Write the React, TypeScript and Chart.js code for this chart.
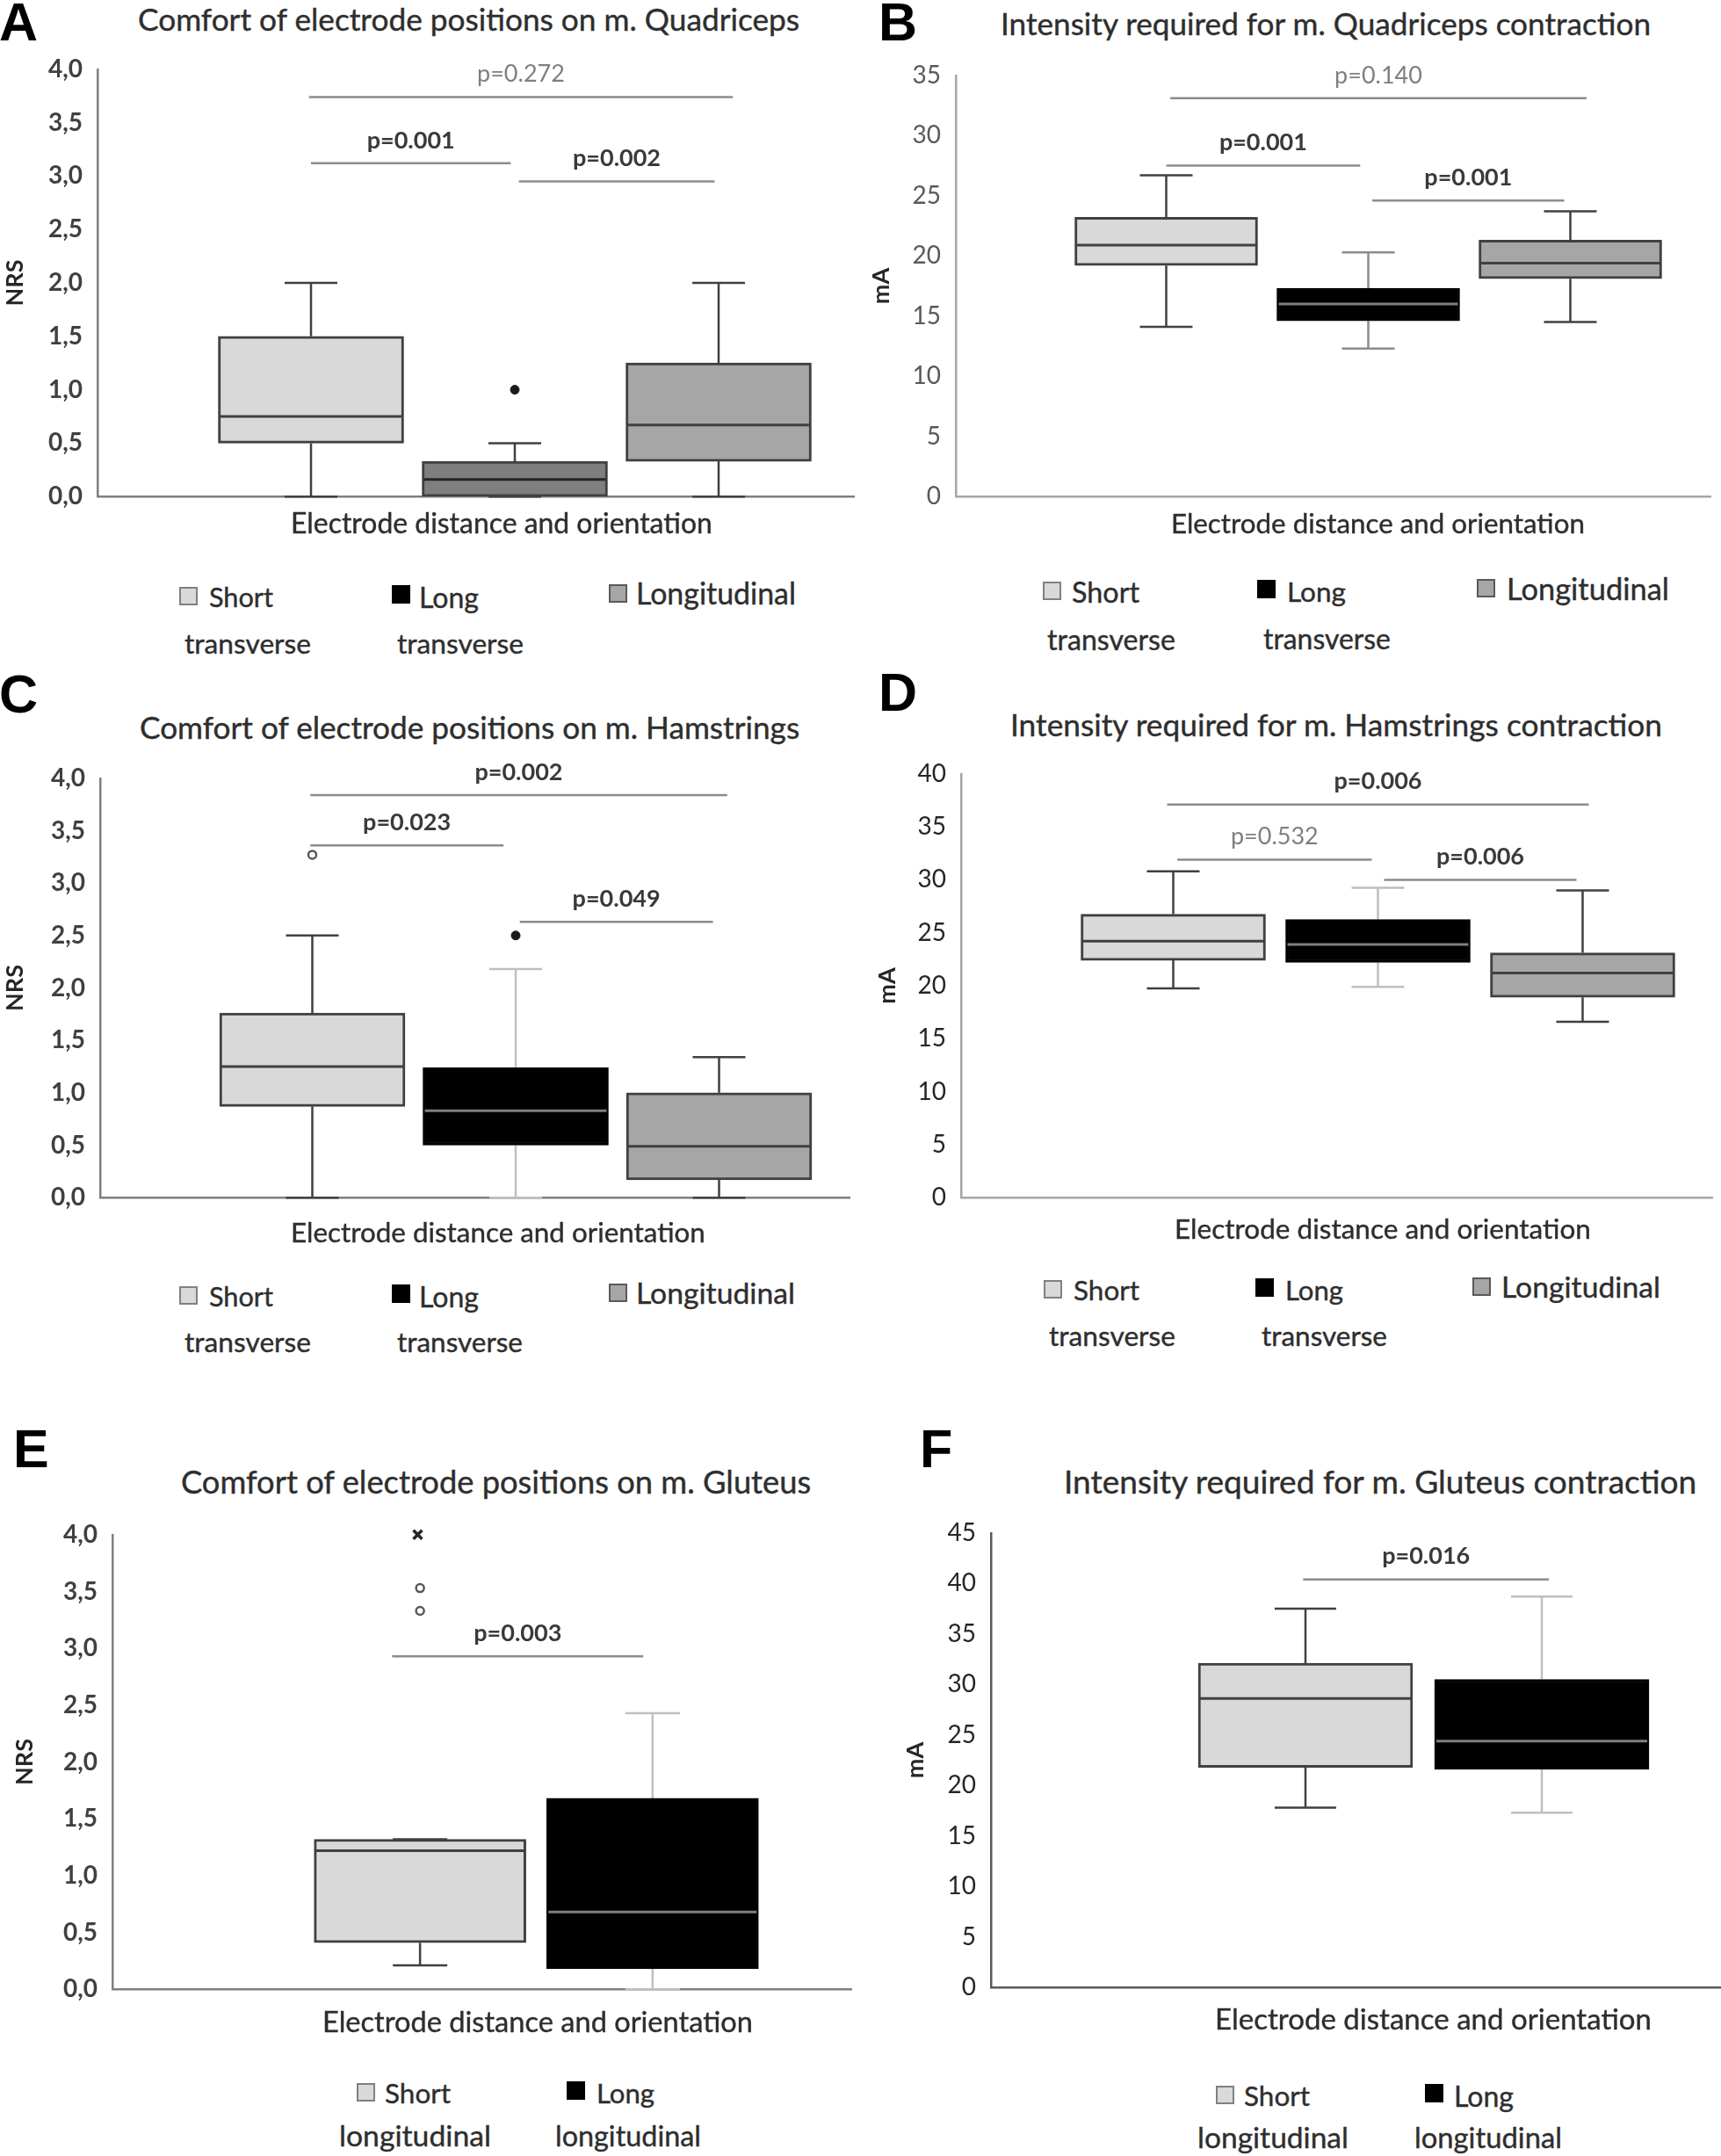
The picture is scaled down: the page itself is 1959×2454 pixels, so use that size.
import React, { useEffect, useRef } from 'react';
import { Chart, registerables } from 'chart.js';

Chart.register(...registerables);

// ---------------- DATA ----------------
const transverseCategories = ['Short transverse', 'Long transverse', 'Longitudinal'];
const longitudinalCategories = ['Short longitudinal', 'Long longitudinal'];

const nrsTickLabels = ['0,0', '0,5', '1,0', '1,5', '2,0', '2,5', '3,0', '3,5', '4,0'];

// A – Comfort, m. Quadriceps (NRS)
const quadComfortMin = [0, 0, 0];
const quadComfortQ1 = [0.5, 0, 0.33];
const quadComfortMedian = [0.75, 0.16, 0.67];
const quadComfortQ3 = [1.5, 0.33, 1.25];
const quadComfortMax = [2.0, 0.5, 2.0];
const quadComfortOutlierCat = [2];
const quadComfortOutlierVal = [1.0];
const quadComfortSigLabels = ['p=0.272', 'p=0.001', 'p=0.002'];
const quadComfortSigFrom = [0.99, 1.0, 2.02];
const quadComfortSigTo = [3.07, 1.98, 2.98];
const quadComfortSigLevel = [3.74, 3.12, 2.95];
const quadComfortSigBold = [false, true, true];

// B – Intensity, m. Quadriceps (mA)
const quadIntMin = [14.1, 12.3, 14.5];
const quadIntQ1 = [19.2, 14.6, 18.1];
const quadIntMedian = [20.9, 16.0, 19.4];
const quadIntQ3 = [23.2, 17.3, 21.3];
const quadIntMax = [26.7, 20.3, 23.7];
const quadIntSigLabels = ['p=0.140', 'p=0.001', 'p=0.001'];
const quadIntSigFrom = [1.02, 1.0, 2.02];
const quadIntSigTo = [3.08, 1.96, 2.97];
const quadIntSigLevel = [33.1, 27.5, 24.6];
const quadIntSigBold = [false, true, true];

// C – Comfort, m. Hamstrings (NRS)
const hamComfortMin = [0, 0, 0];
const hamComfortQ1 = [0.87, 0.5, 0.17];
const hamComfortMedian = [1.25, 0.83, 0.49];
const hamComfortQ3 = [1.76, 1.24, 1.0];
const hamComfortMax = [2.5, 2.18, 1.34];
const hamComfortOpenOutlierCat = [1];
const hamComfortOpenOutlierVal = [3.27];
const hamComfortOutlierCat = [2];
const hamComfortOutlierVal = [2.5];
const hamComfortSigLabels = ['p=0.002', 'p=0.023', 'p=0.049'];
const hamComfortSigFrom = [0.99, 0.99, 2.02];
const hamComfortSigTo = [3.04, 1.94, 2.97];
const hamComfortSigLevel = [3.84, 3.36, 2.63];
const hamComfortSigBold = [true, true, true];

// D – Intensity, m. Hamstrings (mA)
const hamIntMin = [19.75, 19.9, 16.6];
const hamIntQ1 = [22.4, 22.2, 18.9];
const hamIntMedian = [24.2, 23.9, 21.2];
const hamIntQ3 = [26.75, 26.25, 23.1];
const hamIntMax = [30.8, 29.25, 29.0];
const hamIntSigLabels = ['p=0.006', 'p=0.532', 'p=0.006'];
const hamIntSigFrom = [0.97, 1.02, 2.03];
const hamIntSigTo = [3.03, 1.97, 2.97];
const hamIntSigLevel = [37.1, 31.9, 30.0];
const hamIntSigBold = [true, false, true];

// E – Comfort, m. Gluteus (NRS)
const gluComfortMin = [0.21, 0];
const gluComfortQ1 = [0.41, 0.18];
const gluComfortMedian = [1.22, 0.68];
const gluComfortQ3 = [1.32, 1.68];
const gluComfortMax = [1.32, 2.43];
const gluComfortOpenOutlierCat = [1, 1];
const gluComfortOpenOutlierVal = [3.53, 3.33];
const gluComfortMeanCat = [0.99];
const gluComfortMeanVal = [4.0];
const gluComfortSigLabels = ['p=0.003'];
const gluComfortSigFrom = [0.88];
const gluComfortSigTo = [1.96];
const gluComfortSigLevel = [2.93];
const gluComfortSigBold = [true];

// F – Intensity, m. Gluteus (mA)
const gluIntMin = [17.8, 17.3];
const gluIntQ1 = [21.8, 21.6];
const gluIntMedian = [28.6, 24.4];
const gluIntQ3 = [32.1, 30.5];
const gluIntMax = [37.5, 38.7];
const gluIntSigLabels = ['p=0.016'];
const gluIntSigFrom = [0.99];
const gluIntSigTo = [2.03];
const gluIntSigLevel = [40.4];
const gluIntSigBold = [true];

// ---------------- STYLE / LAYOUT ----------------
const FONT = 'Lato';
const TEXT = '#2e2e2e';

const STYLE_3 = {
  fill: ['#d9d9d9', '#000000', '#a6a6a6'],
  border: ['#404040', '#000000', '#404040'],
  median: ['#404040', '#7f7f7f', '#404040'],
  whisker: ['#404040', '#bfbfbf', '#404040'],
};
const STYLE_2 = {
  fill: ['#d9d9d9', '#000000'],
  border: ['#404040', '#000000'],
  median: ['#404040', '#7f7f7f'],
  whisker: ['#404040', '#bfbfbf'],
};

const legendFill: any = {
  Short: { bg: '#d9d9d9', border: '2px solid #808080' },
  Long: { bg: '#000000', border: '2px solid #000000' },
  Longitudinal: { bg: '#a6a6a6', border: '2px solid #595959' },
};

const panels: any[] = [
  {
    key: 'A', letter: { left: -1, cy: 25 },
    categories: transverseCategories,
    min: quadComfortMin, q1: quadComfortQ1, median: quadComfortMedian, q3: quadComfortQ3, max: quadComfortMax,
    filled: { cat: quadComfortOutlierCat, val: quadComfortOutlierVal }, open: null, mean: null,
    sig: { labels: quadComfortSigLabels, from: quadComfortSigFrom, to: quadComfortSigTo, level: quadComfortSigLevel, bold: quadComfortSigBold },
    yMax: 4, step: 0.5, tickLabels: nrsTickLabels, yTitle: 'NRS',
    style: { ...STYLE_3, fill: ['#d9d9d9', '#7f7f7f', '#a6a6a6'], border: ['#404040', '#404040', '#404040'], median: ['#404040', '#262626', '#404040'], whisker: ['#404040', '#404040', '#404040'] },
    tick: { color: '#404040', weight: 'bold' }, axis: { color: '#7f7f7f', width: 2.5 },
    L: { panelLeft: 0, panelRight: 980, plotLeft: 111, plotRight: 972, plotTop: 75, plotBottom: 569, c1: 354, sp: 232, boxWidth: 211, cap: 60, yTitlePad: 1 },
    title: { text: 'Comfort of electrode positions on m. Quadriceps', left: 157, width: 754, cy: 22 },
    xTitle: { left: 331, width: 480, cy: 595 },
    legend: [
      { key: 'Short', mx: 204, my: 668, t1: ['Short', 238, 73, 680], t2: ['transverse', 210, 144, 733] },
      { key: 'Long', mx: 446, my: 666, t1: ['Long', 477, 68, 680], t2: ['transverse', 452, 144, 733] },
      { key: 'Longitudinal', mx: 693, my: 665, t1: ['Longitudinal', 724, 182, 676] },
    ],
  },
  {
    key: 'B', letter: { left: 1000, cy: 25 },
    categories: transverseCategories,
    min: quadIntMin, q1: quadIntQ1, median: quadIntMedian, q3: quadIntQ3, max: quadIntMax,
    filled: null, open: null, mean: null,
    sig: { labels: quadIntSigLabels, from: quadIntSigFrom, to: quadIntSigTo, level: quadIntSigLevel, bold: quadIntSigBold },
    yMax: 35, step: 5, tickLabels: null, yTitle: 'mA',
    style: { ...STYLE_3, whisker: ['#404040', '#8c8c8c', '#404040'] },
    tick: { color: '#595959', weight: 'normal' }, axis: { color: '#a6a6a6', width: 2.5 },
    L: { panelLeft: 980, panelRight: 1959, plotLeft: 1088, plotRight: 1947, plotTop: 82, plotBottom: 569, c1: 1327.5, sp: 230, boxWidth: 208, cap: 60, yTitlePad: 7 },
    title: { text: 'Intensity required for m. Quadriceps contraction', left: 1139, width: 742, cy: 27 },
    xTitle: { left: 1333, width: 471, cy: 596 },
    legend: [
      { key: 'Short', mx: 1187, my: 662, t1: ['Short', 1220, 77, 674], t2: ['transverse', 1192, 146, 728] },
      { key: 'Long', mx: 1431, my: 660, t1: ['Long', 1465, 67, 674], t2: ['transverse', 1438, 145, 728] },
      { key: 'Longitudinal', mx: 1681, my: 659, t1: ['Longitudinal', 1715, 185, 670] },
    ],
  },
  {
    key: 'C', letter: { left: -1, cy: 790 },
    categories: transverseCategories,
    min: hamComfortMin, q1: hamComfortQ1, median: hamComfortMedian, q3: hamComfortQ3, max: hamComfortMax,
    filled: { cat: hamComfortOutlierCat, val: hamComfortOutlierVal },
    open: { cat: hamComfortOpenOutlierCat, val: hamComfortOpenOutlierVal }, mean: null,
    sig: { labels: hamComfortSigLabels, from: hamComfortSigFrom, to: hamComfortSigTo, level: hamComfortSigLevel, bold: hamComfortSigBold },
    yMax: 4, step: 0.5, tickLabels: nrsTickLabels, yTitle: 'NRS',
    style: STYLE_3,
    tick: { color: '#404040', weight: 'bold' }, axis: { color: '#7f7f7f', width: 2.5 },
    L: { panelLeft: 0, panelRight: 980, plotLeft: 114, plotRight: 967, plotTop: 882, plotBottom: 1367, c1: 355.5, sp: 231.5, boxWidth: 211, cap: 60, yTitlePad: 1 },
    title: { text: 'Comfort of electrode positions on m. Hamstrings', left: 159, width: 752, cy: 828 },
    xTitle: { left: 331, width: 472, cy: 1403 },
    legend: [
      { key: 'Short', mx: 204, my: 1464, t1: ['Short', 238, 73, 1476], t2: ['transverse', 210, 144, 1528] },
      { key: 'Long', mx: 446, my: 1462, t1: ['Long', 477, 68, 1476], t2: ['transverse', 452, 143, 1528] },
      { key: 'Longitudinal', mx: 693, my: 1461, t1: ['Longitudinal', 724, 181, 1472] },
    ],
  },
  {
    key: 'D', letter: { left: 1000, cy: 788 },
    categories: transverseCategories,
    min: hamIntMin, q1: hamIntQ1, median: hamIntMedian, q3: hamIntQ3, max: hamIntMax,
    filled: null, open: null, mean: null,
    sig: { labels: hamIntSigLabels, from: hamIntSigFrom, to: hamIntSigTo, level: hamIntSigLevel, bold: hamIntSigBold },
    yMax: 40, step: 5, tickLabels: null, yTitle: 'mA',
    style: STYLE_3,
    tick: { color: '#262626', weight: 'normal' }, axis: { color: '#a6a6a6', width: 2.5 },
    L: { panelLeft: 980, panelRight: 1959, plotLeft: 1094, plotRight: 1949, plotTop: 877, plotBottom: 1367, c1: 1335.5, sp: 233, boxWidth: 210, cap: 60, yTitlePad: 14 },
    title: { text: 'Intensity required for m. Hamstrings contraction', left: 1150, width: 744, cy: 825 },
    xTitle: { left: 1337, width: 474, cy: 1399 },
    legend: [
      { key: 'Short', mx: 1188, my: 1457, t1: ['Short', 1222, 75, 1469], t2: ['transverse', 1194, 144, 1521] },
      { key: 'Long', mx: 1429, my: 1455, t1: ['Long', 1463, 66, 1469], t2: ['transverse', 1436, 143, 1521] },
      { key: 'Longitudinal', mx: 1676, my: 1454, t1: ['Longitudinal', 1709, 181, 1465] },
    ],
  },
  {
    key: 'E', letter: { left: 15, cy: 1649 },
    categories: longitudinalCategories,
    min: gluComfortMin, q1: gluComfortQ1, median: gluComfortMedian, q3: gluComfortQ3, max: gluComfortMax,
    filled: null,
    open: { cat: gluComfortOpenOutlierCat, val: gluComfortOpenOutlierVal },
    mean: { cat: gluComfortMeanCat, val: gluComfortMeanVal },
    sig: { labels: gluComfortSigLabels, from: gluComfortSigFrom, to: gluComfortSigTo, level: gluComfortSigLevel, bold: gluComfortSigBold },
    yMax: 4, step: 0.5, tickLabels: nrsTickLabels, yTitle: 'NRS',
    style: STYLE_2,
    tick: { color: '#404040', weight: 'bold' }, axis: { color: '#7f7f7f', width: 2.5 },
    L: { panelLeft: 0, panelRight: 980, plotLeft: 128, plotRight: 980, plotTop: 1743, plotBottom: 2268, c1: 482.5, sp: 268, boxWidth: 241, cap: 62, yTitlePad: 12 },
    title: { text: 'Comfort of electrode positions on m. Gluteus', left: 206, width: 718, cy: 1686 },
    xTitle: { left: 367, width: 490, cy: 2301 },
    legend: [
      { key: 'Short', mx: 406, my: 2371, t1: ['Short', 438, 75, 2383], t2: ['longitudinal', 386, 173, 2431] },
      { key: 'Long', mx: 645, my: 2369, t1: ['Long', 679, 66, 2383], t2: ['longitudinal', 632, 166, 2431] },
    ],
  },
  {
    key: 'F', letter: { left: 1047, cy: 1649 },
    categories: longitudinalCategories,
    min: gluIntMin, q1: gluIntQ1, median: gluIntMedian, q3: gluIntQ3, max: gluIntMax,
    filled: null, open: null, mean: null,
    sig: { labels: gluIntSigLabels, from: gluIntSigFrom, to: gluIntSigTo, level: gluIntSigLevel, bold: gluIntSigBold },
    yMax: 45, step: 5, tickLabels: null, yTitle: 'mA',
    style: STYLE_2,
    tick: { color: '#262626', weight: 'normal' }, axis: { color: '#595959', width: 2.5 },
    L: { panelLeft: 980, panelRight: 1959, plotLeft: 1128, plotRight: 1959, plotTop: 1741, plotBottom: 2266, c1: 1486, sp: 269, boxWidth: 244, cap: 70, yTitlePad: 46 },
    title: { text: 'Intensity required for m. Gluteus contraction', left: 1211, width: 722, cy: 1686 },
    xTitle: { left: 1383, width: 497, cy: 2298 },
    legend: [
      { key: 'Short', mx: 1384, my: 2374, t1: ['Short', 1416, 75, 2386], t2: ['longitudinal', 1363, 172, 2433] },
      { key: 'Long', mx: 1622, my: 2372, t1: ['Long', 1655, 68, 2386], t2: ['longitudinal', 1610, 168, 2433] },
    ],
  },
];

// ---------------- HELPERS ----------------
let measureCtx: any = null;
function fitSize(text: string, weight: string | number, family: string, width: number) {
  if (!measureCtx) measureCtx = document.createElement('canvas').getContext('2d');
  measureCtx.font = `${weight} 100px "${family}"`;
  const w = measureCtx.measureText(text).width || 1;
  return (100 * width) / w;
}

function Txt({ text, left, width, cy, weight = 400, color = TEXT, family = FONT }: any) {
  const size = fitSize(text, weight, family, width);
  return (
    <div
      style={{
        position: 'absolute', left, top: cy, transform: 'translateY(-50%)',
        fontFamily: `"${family}"`, fontWeight: weight, fontSize: size, lineHeight: 1,
        color, whiteSpace: 'nowrap', WebkitTextStroke: '0.4px ' + color,
      }}
    >
      {text}
    </div>
  );
}

function boxPlugin(p: any) {
  return {
    id: 'boxExtras' + p.key,
    beforeDatasetsDraw(chart: any) {
      const { ctx } = chart;
      const xs = chart.scales.x;
      const ys = chart.scales.y;
      ctx.save();
      ctx.lineWidth = 2.5;
      p.categories.forEach((_: string, i: number) => {
        const x = xs.getPixelForValue(i + 1);
        const half = p.L.cap / 2;
        const yMax = ys.getPixelForValue(p.max[i]);
        const yQ3 = ys.getPixelForValue(p.q3[i]);
        const yQ1 = ys.getPixelForValue(p.q1[i]);
        const yMin = ys.getPixelForValue(p.min[i]);
        ctx.strokeStyle = p.style.whisker[i];
        ctx.beginPath();
        ctx.moveTo(x, yQ3); ctx.lineTo(x, yMax);
        ctx.moveTo(x - half, yMax); ctx.lineTo(x + half, yMax);
        ctx.moveTo(x, yQ1); ctx.lineTo(x, yMin);
        ctx.moveTo(x - half, yMin); ctx.lineTo(x + half, yMin);
        ctx.stroke();
      });
      ctx.restore();
    },
    afterDatasetsDraw(chart: any) {
      const { ctx } = chart;
      const xs = chart.scales.x;
      const ys = chart.scales.y;
      const meta = chart.getDatasetMeta(0);
      ctx.save();
      meta.data.forEach((el: any, i: number) => {
        const { x, width } = el.getProps(['x', 'width'], true);
        const y = ys.getPixelForValue(p.median[i]);
        ctx.strokeStyle = p.style.median[i];
        ctx.lineWidth = 3;
        ctx.beginPath();
        ctx.moveTo(x - width / 2 + 2, y);
        ctx.lineTo(x + width / 2 - 2, y);
        ctx.stroke();
      });
      const s = p.sig;
      s.labels.forEach((lab: string, k: number) => {
        const x1 = xs.getPixelForValue(s.from[k]);
        const x2 = xs.getPixelForValue(s.to[k]);
        const y = ys.getPixelForValue(s.level[k]);
        ctx.strokeStyle = '#8c8c8c';
        ctx.lineWidth = 2.5;
        ctx.beginPath();
        ctx.moveTo(x1, y);
        ctx.lineTo(x2, y);
        ctx.stroke();
        ctx.font = `${s.bold[k] ? 'bold' : 'normal'} 27px "${FONT}"`;
        ctx.fillStyle = s.bold[k] ? '#3a3a3a' : '#7f7f7f';
        ctx.textAlign = 'center';
        ctx.textBaseline = 'middle';
        ctx.fillText(lab, (x1 + x2) / 2, y - 26);
      });
      ctx.restore();
    },
  };
}

function makeChart(canvas: HTMLCanvasElement, p: any) {
  const L = p.L;
  const boxes = p.categories.map((_: string, i: number) => ({ x: i + 1, y: [p.q1[i], p.q3[i]] }));
  const datasets: any[] = [
    {
      type: 'bar',
      label: 'box',
      data: boxes,
      backgroundColor: p.style.fill,
      borderColor: p.style.border,
      borderWidth: 3,
      borderSkipped: false,
      barThickness: L.boxWidth,
      order: 3,
    },
  ];
  if (p.filled) {
    datasets.push({
      type: 'scatter', label: 'outlier',
      data: p.filled.cat.map((c: number, i: number) => ({ x: c, y: p.filled.val[i] })),
      pointStyle: 'circle', pointRadius: 5, backgroundColor: '#1a1a1a', borderColor: '#1a1a1a', borderWidth: 1,
      clip: false, order: 1,
    });
  }
  if (p.open) {
    datasets.push({
      type: 'scatter', label: 'outlier (open)',
      data: p.open.cat.map((c: number, i: number) => ({ x: c, y: p.open.val[i] })),
      pointStyle: 'circle', pointRadius: 4.5, backgroundColor: '#ffffff', borderColor: '#595959', borderWidth: 2.5,
      clip: false, order: 1,
    });
  }
  if (p.mean) {
    datasets.push({
      type: 'scatter', label: 'extreme',
      data: p.mean.cat.map((c: number, i: number) => ({ x: c, y: p.mean.val[i] })),
      pointStyle: 'crossRot', pointRadius: 7, backgroundColor: '#262626', borderColor: '#262626', borderWidth: 3.5,
      clip: false, order: 1,
    });
  }
  const xMin = 1 + (L.plotLeft - L.c1) / L.sp;
  const xMax = 1 + (L.plotRight - L.c1) / L.sp;
  const tickCallback = (v: any) => {
    if (p.tickLabels) {
      const idx = Math.round(Number(v) / p.step);
      return p.tickLabels[idx] ?? '';
    }
    return String(v);
  };
  return new Chart(canvas, {
    type: 'bar',
    data: { datasets },
    options: {
      animation: false,
      responsive: false,
      events: [],
      layout: { padding: { top: 30, left: 0, right: L.panelRight - L.plotRight, bottom: 0 } },
      plugins: { legend: { display: false }, tooltip: { enabled: false }, title: { display: false } },
      scales: {
        x: {
          type: 'linear', min: xMin, max: xMax, offset: false,
          grid: { display: false, drawTicks: false },
          ticks: { display: false },
          border: { display: true, color: p.axis.color, width: p.axis.width },
          afterFit: (s: any) => { s.height = 30; },
        },
        y: {
          type: 'linear', min: 0, max: p.yMax,
          grid: { display: false, drawTicks: false },
          border: { display: true, color: p.axis.color, width: p.axis.width },
          ticks: {
            stepSize: p.step, padding: 17, color: p.tick.color, autoSkip: false,
            font: { family: FONT, size: 28, weight: p.tick.weight },
            callback: tickCallback,
          },
          title: {
            display: true, text: p.yTitle, color: '#262626',
            font: { family: FONT, size: 27, weight: 'bold' },
            padding: { top: L.yTitlePad, bottom: 0 },
          },
          afterFit: (s: any) => { s.width = L.plotLeft - L.panelLeft; },
        },
      },
    } as any,
    plugins: [boxPlugin(p)],
  } as any);
}

function PanelView({ p }: any) {
  const ref = useRef<HTMLCanvasElement | null>(null);
  const L = p.L;
  const canvasTop = L.plotTop - 30;
  const canvasW = L.panelRight - L.panelLeft;
  const canvasH = L.plotBottom - L.plotTop + 60;
  useEffect(() => {
    if (!ref.current) return;
    const chart = makeChart(ref.current, p);
    return () => chart.destroy();
  }, [p]);
  return (
    <>
      <canvas
        ref={ref}
        width={canvasW}
        height={canvasH}
        style={{ position: 'absolute', left: L.panelLeft, top: canvasTop, width: canvasW, height: canvasH }}
      />
      <div
        style={{
          position: 'absolute', left: p.letter.left, top: p.letter.cy, transform: 'translateY(-50%)',
          fontFamily: '"Liberation Sans"', fontWeight: 'bold', fontSize: 61, lineHeight: 1, color: '#000',
        }}
      >
        {p.key}
      </div>
      <Txt text={p.title.text} left={p.title.left} width={p.title.width} cy={p.title.cy} />
      <Txt text="Electrode distance and orientation" left={p.xTitle.left} width={p.xTitle.width} cy={p.xTitle.cy} />
      {p.legend.map((it: any) => (
        <React.Fragment key={it.key}>
          <div
            style={{
              position: 'absolute', left: it.mx, top: it.my, width: 21, height: 21, boxSizing: 'border-box',
              background: legendFill[it.key].bg, border: legendFill[it.key].border,
            }}
          />
          <Txt text={it.t1[0]} left={it.t1[1]} width={it.t1[2]} cy={it.t1[3]} />
          {it.t2 ? <Txt text={it.t2[0]} left={it.t2[1]} width={it.t2[2]} cy={it.t2[3]} /> : null}
        </React.Fragment>
      ))}
    </>
  );
}

export default function App() {
  return (
    <div
      style={{
        position: 'absolute', left: 0, top: 0, width: 1959, height: 2454,
        background: '#ffffff', overflow: 'hidden',
      }}
    >
      {panels.map((p) => (
        <PanelView key={p.key} p={p} />
      ))}
    </div>
  );
}
